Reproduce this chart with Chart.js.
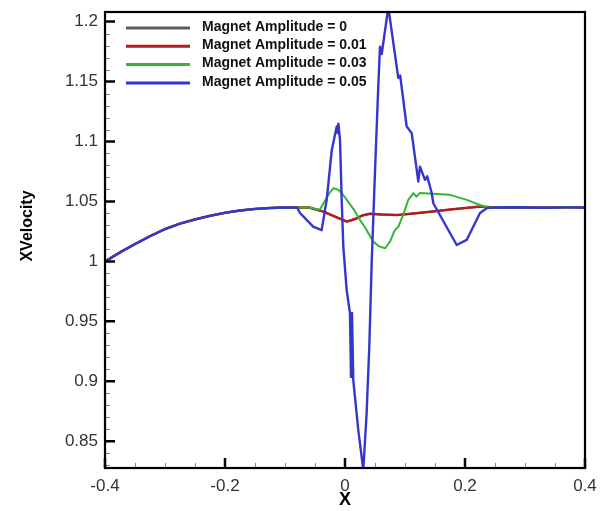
<!DOCTYPE html>
<html>
<head>
<meta charset="utf-8">
<script src="https://cdn.jsdelivr.net/npm/chart.js@4.4.1/dist/chart.umd.min.js"></script>
<style>
  body { margin: 0; background: #fff; }
  canvas { display: block; }
</style>
</head>
<body>
<canvas id="chart" width="603" height="511"></canvas>
<script>
// common upstream rise, shared by every amplitude
const riseX = [-0.4, -0.375, -0.35, -0.325, -0.3, -0.275, -0.25, -0.225, -0.2, -0.175, -0.15, -0.125, -0.1, -0.08];
const riseY = [1.0, 1.0075, 1.0145, 1.021, 1.027, 1.0315, 1.035, 1.038, 1.0405, 1.0425, 1.0438, 1.0445, 1.045, 1.045];

// common downstream tail
const tailX = [0.25, 0.29, 0.33, 0.37, 0.4];
const tailY = [1.045, 1.0452, 1.0448, 1.0451, 1.045];

const labels = ['Magnet Amplitude = 0', 'Magnet Amplitude = 0.01', 'Magnet Amplitude = 0.03', 'Magnet Amplitude = 0.05'];
const colors = ['#5c5c5c', '#b01e1e', '#35b535', '#3636cc'];

// amplitude 0 sits under the 0.01 curve in the picture
const amp0X = [-0.06, -0.036, -0.015, 0.003, 0.012, 0.02, 0.03, 0.042, 0.06, 0.086, 0.11, 0.142, 0.18, 0.225];
const amp0Y = [1.045, 1.0416, 1.0371, 1.0333, 1.0346, 1.0361, 1.0385, 1.0397, 1.0391, 1.0386, 1.0398, 1.0415, 1.0436, 1.0456];

const amp1X = [-0.06, -0.036, -0.015, 0.003, 0.012, 0.02, 0.03, 0.042, 0.06, 0.086, 0.11, 0.142, 0.18, 0.225];
const amp1Y = [1.045, 1.0415, 1.037, 1.0332, 1.0345, 1.036, 1.0385, 1.0398, 1.0392, 1.0386, 1.0398, 1.0415, 1.0435, 1.0457];

const amp3X = [-0.06, -0.042, -0.033, -0.026, -0.0195, -0.011, -0.004, 0.003, 0.015, 0.025, 0.035, 0.047, 0.057, 0.067,
  0.075, 0.083, 0.089, 0.097, 0.1055, 0.114, 0.119, 0.125, 0.153, 0.175, 0.203, 0.225, 0.238];
const amp3Y = [1.045, 1.043, 1.051, 1.057, 1.061, 1.0597, 1.056, 1.0513, 1.043, 1.0346, 1.027, 1.0165, 1.0125, 1.011,
  1.0165, 1.026, 1.029, 1.0388, 1.0513, 1.057, 1.054, 1.057, 1.0563, 1.0555, 1.0513, 1.047, 1.045];

const amp5X = [-0.075, -0.053, -0.039, -0.0305, -0.022, -0.0138, -0.012, -0.011, -0.0083, -0.0055, -0.0028, 0.0028,
  0.0083, 0.01, 0.0117, 0.0138, 0.0222, 0.025, 0.0305, 0.036, 0.0405, 0.0445, 0.05, 0.055, 0.0583, 0.0612, 0.0722,
  0.0888, 0.092, 0.1028, 0.1112, 0.1222, 0.125, 0.1333, 0.137, 0.1445, 0.1472, 0.175, 0.1862, 0.2028, 0.225, 0.2362];
const amp5Y = [1.0404, 1.029, 1.026, 1.0513, 1.093, 1.1125, 1.107, 1.1148, 1.101, 1.051, 1.0123, 0.976,
  0.9566, 0.9037, 0.957, 0.901, 0.859, 0.848, 0.826, 0.873, 0.929, 0.999, 1.075, 1.14, 1.179, 1.173, 1.212,
  1.153, 1.155, 1.1125, 1.107, 1.0666, 1.079, 1.068, 1.071, 1.057, 1.0485, 1.0237, 1.0137, 1.0179, 1.0404, 1.0444];

const xTicks = [-0.4, -0.2, 0, 0.2, 0.4];
const yTicks = [0.85, 0.9, 0.95, 1, 1.05, 1.1, 1.15, 1.2];

function series(midX, midY) {
    const xs = riseX.concat(midX, tailX);
    const ys = riseY.concat(midY, tailY);
    return xs.map((x, i) => ({x: x, y: ys[i]}));
}

const fmt = v => Math.abs(v) < 1e-9 ? '0' : String(Number(v.toFixed(2)));

const frame = {
    id: 'frame',
    afterDraw(chart) {
        const ctx = chart.ctx;
        const a = chart.chartArea;
        const xs = chart.scales.x, ys = chart.scales.y;
        ctx.save();
        // minor ticks
        ctx.strokeStyle = '#888';
        ctx.lineWidth = 1;
        ctx.beginPath();
        for (let i = -8; i <= 8; i++) {
            if (i % 4 === 0) continue;
            const px = Math.round(xs.getPixelForValue(i * 0.05)) + 0.5;
            ctx.moveTo(px, a.bottom); ctx.lineTo(px, a.bottom - 5);
        }
        for (let i = 83; i <= 120; i++) {
            if (i % 5 === 0) continue;
            const py = Math.round(ys.getPixelForValue(i / 100)) + 0.5;
            ctx.moveTo(a.left, py); ctx.lineTo(a.left + 5, py);
        }
        ctx.stroke();
        // major ticks
        ctx.strokeStyle = '#000';
        ctx.lineWidth = 2.5;
        ctx.beginPath();
        xTicks.forEach(v => {
            const px = xs.getPixelForValue(v);
            ctx.moveTo(px, a.bottom); ctx.lineTo(px, a.bottom - 10);
        });
        yTicks.forEach(v => {
            const py = ys.getPixelForValue(v);
            ctx.moveTo(a.left, py); ctx.lineTo(a.left + 10, py);
        });
        ctx.stroke();
        // box
        ctx.lineWidth = 2.2;
        ctx.strokeRect(a.left, a.top, a.right - a.left, a.bottom - a.top);

        // legend inside the plot
        ctx.font = 'bold 14px "Liberation Sans", Arial, sans-serif';
        ctx.textBaseline = 'middle';
        ctx.fillStyle = '#111';
        chart.data.datasets.forEach((ds, i) => {
            const y = 27 + i * 18.3;
            ctx.strokeStyle = ds.borderColor;
            ctx.lineWidth = 3;
            ctx.beginPath();
            ctx.moveTo(126, y + 1); ctx.lineTo(190, y + 1);
            ctx.stroke();
            ctx.fillText(ds.label, 202, y);
        });

        // y axis title
        ctx.translate(28, 226);
        ctx.rotate(-Math.PI / 2);
        ctx.textAlign = 'center';
        ctx.font = 'bold 16px "Liberation Sans", Arial, sans-serif';
        ctx.fillStyle = '#000';
        ctx.fillText('XVelocity', 0, 0);
        ctx.restore();
    }
};

const ctx = document.getElementById('chart').getContext('2d');
new Chart(ctx, {
    type: 'line',
    data: {
        datasets: [
            {label: labels[0], data: series(amp0X, amp0Y), borderColor: colors[0], borderWidth: 2, order: 3},
            {label: labels[1], data: series(amp1X, amp1Y), borderColor: colors[1], borderWidth: 2.5, order: 2},
            {label: labels[2], data: series(amp3X, amp3Y), borderColor: colors[2], borderWidth: 2, order: 1},
            {label: labels[3], data: series(amp5X, amp5Y), borderColor: colors[3], borderWidth: 2.4, order: 0},
        ]
    },
    options: {
        responsive: false,
        animation: false,
        elements: {
            point: {radius: 0},
            line: {tension: 0, fill: false, borderJoinStyle: 'round'}
        },
        layout: {padding: {top: 12, right: 18, left: 0, bottom: 0}},
        plugins: {
            legend: {display: false},
            tooltip: {enabled: false}
        },
        scales: {
            x: {
                type: 'linear',
                min: -0.4,
                max: 0.4,
                grid: {display: false, drawTicks: false},
                border: {display: false},
                ticks: {
                    stepSize: 0.2,
                    padding: 8,
                    color: '#333',
                    font: {family: '"Liberation Sans", Arial', size: 17},
                    callback: fmt
                },
                title: {
                    display: true,
                    text: 'X',
                    color: '#000',
                    font: {family: '"Liberation Sans", Arial', size: 18, weight: 'bold'},
                    padding: {top: 0, bottom: 0}
                },
                afterFit: s => { s.height = 43; s.paddingLeft = 0; s.paddingRight = 0; }
            },
            y: {
                type: 'linear',
                min: 0.8277,
                max: 1.208,
                grid: {display: false, drawTicks: false},
                border: {display: false},
                ticks: {
                    stepSize: 0.05,
                    includeBounds: false,
                    padding: 7,
                    color: '#333',
                    font: {family: '"Liberation Sans", Arial', size: 17},
                    callback: fmt
                },
                afterFit: s => { s.width = 105; s.paddingTop = 0; s.paddingBottom = 0; }
            }
        }
    },
    plugins: [frame]
});
</script>
</body>
</html>
